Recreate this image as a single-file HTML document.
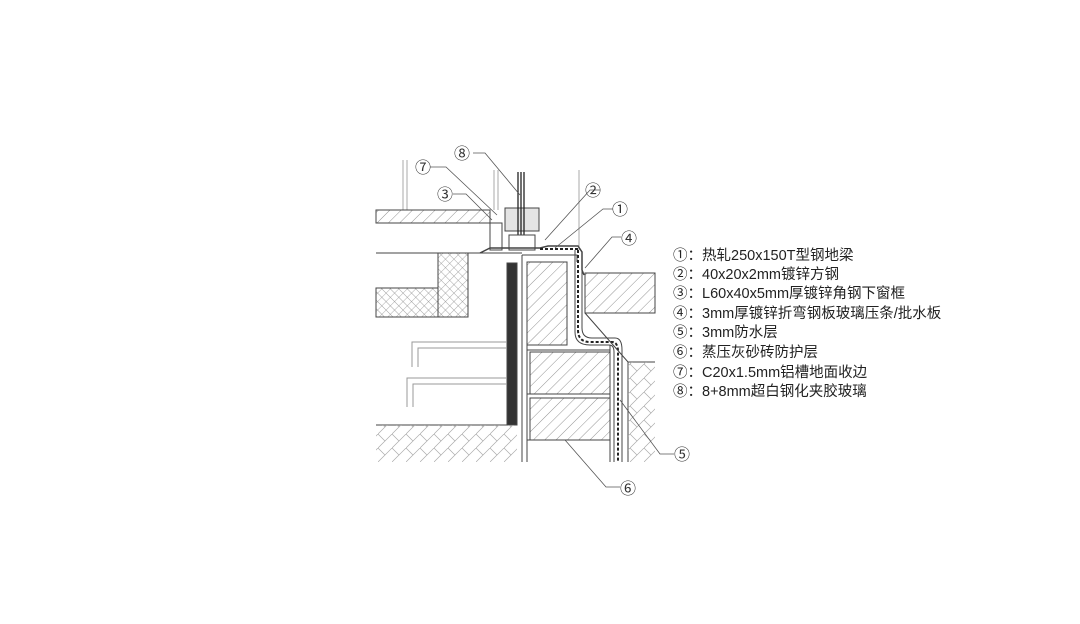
<!DOCTYPE html>
<html><head><meta charset="utf-8"><style>
html,body{margin:0;padding:0;background:#fff;width:1080px;height:624px;overflow:hidden}
svg{display:block}
.t{font-family:"Liberation Sans","Noto Sans CJK SC",sans-serif;font-size:14.5px;fill:#222}
.n{font-family:"Liberation Sans","Noto Sans CJK SC",sans-serif;font-size:16px;fill:#333}
</style></head><body>
<svg width="1080" height="624" viewBox="0 0 1080 624">
<defs>
<pattern id="h" width="8" height="8" patternUnits="userSpaceOnUse" patternTransform="rotate(45)"><line x1="0" y1="0" x2="0" y2="8" stroke="#777" stroke-width="0.8"/></pattern>
<pattern id="x" width="6" height="6" patternUnits="userSpaceOnUse" patternTransform="rotate(45)"><path d="M0 0V6M0 0H6" stroke="#888" stroke-width="0.7"/></pattern>
<pattern id="hb" width="14" height="14" patternUnits="userSpaceOnUse"><path d="M0 14L14 0M0 0L7 7" stroke="#aaa" stroke-width="0.7" fill="none"/></pattern>
</defs>
<g stroke="#444" stroke-width="1" fill="none">
<path d="M403 160V210M407 160V210M494 170V210M498 170V210M579 170V250" stroke="#aaa"/>
<rect x="505" y="208" width="34" height="23" fill="#e4e4e4"/>
<path d="M518 172V235M521 172V235M524 172V235" stroke="#222" stroke-width="1.3"/>
<rect x="376" y="210" width="114" height="13" fill="url(#h)"/>
<line x1="376" y1="253" x2="522" y2="253"/>
<rect x="509" y="235" width="26" height="15"/>
<rect x="490" y="223" width="12" height="27"/>
<path d="M480 253L490 248H540L548 246L578 246L582 252L582 270L584 275" stroke-width="1.5"/>
<path d="M540 249L578 249" stroke="#222" stroke-dasharray="3 2" stroke-width="2"/>
<rect x="438" y="253" width="30" height="64" fill="url(#x)"/>
<rect x="376" y="288" width="62" height="29" fill="url(#x)"/>
<rect x="507" y="263" width="10" height="162" fill="#333"/>
<path d="M522 255H577V262M522 255V462M527 262V462"/>
<rect x="527" y="262" width="40" height="83" fill="url(#h)"/>
<rect x="530" y="352" width="80" height="42" fill="url(#h)"/>
<rect x="530" y="398" width="80" height="42" fill="url(#h)"/>
<path d="M527 345H567M527 350H610M527 394H610M527 440H610M610 345V462"/>
<path d="M578 250V330Q578 342 590 342H612Q618 342 618 352V462" stroke="#222" stroke-dasharray="3 2" stroke-width="2"/>
<path d="M575 250V332Q575 345 590 345H609Q614 345 614 352V462M582 252V328Q582 338 592 338H615Q622 338 622 350V462"/>
<rect x="585" y="273" width="70" height="40" fill="url(#h)"/>
<path d="M585 313L628 362H655M628 362V462"/>
<rect x="628" y="362" width="27" height="100" fill="url(#hb)" stroke="none"/>
<line x1="376" y1="425" x2="517" y2="425"/>
<rect x="376" y="425" width="141" height="37" fill="url(#hb)" stroke="none"/>
<path d="M412 367V342H507M418 367V348H507M407 407V378H507M413 407V384H507" stroke="#999"/>
</g>
<g stroke="#555" stroke-width="0.8" fill="none">
<path d="M473 153H485L520 195M430 167H446L497 215M453 194H466L492 220M600 190H590L545 240M613 209H603L555 248M621 237H612L585 268M674 454H660L620 400M620 487H606L565 440"/>
</g>
<g class="n">
<text x="454" y="159">⑧</text>
<text x="415" y="173">⑦</text>
<text x="437" y="200">③</text>
<text x="585" y="196">②</text>
<text x="612" y="215">①</text>
<text x="621" y="244">④</text>
<text x="674" y="460">⑤</text>
<text x="620" y="494">⑥</text>
</g>
<g class="t">
<text x="673" y="260">①：热轧250x150T型钢地梁</text>
<text x="673" y="279">②：40x20x2mm镀锌方钢</text>
<text x="673" y="298">③：L60x40x5mm厚镀锌角钢下窗框</text>
<text x="673" y="318">④：3mm厚镀锌折弯钢板玻璃压条/批水板</text>
<text x="673" y="337">⑤：3mm防水层</text>
<text x="673" y="357">⑥：蒸压灰砂砖防护层</text>
<text x="673" y="377">⑦：C20x1.5mm铝槽地面收边</text>
<text x="673" y="396">⑧：8+8mm超白钢化夹胶玻璃</text>
</g>
</svg>
</body></html>
